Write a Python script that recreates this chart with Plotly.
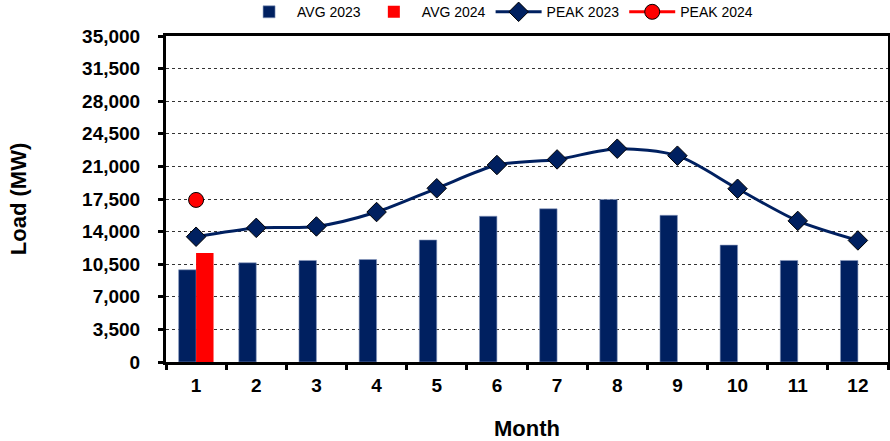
import plotly.graph_objects as go

months = [str(m) for m in range(1, 13)]
avg_2023 = [9900, 10650, 10900, 11000, 13100, 15650, 16450, 17450, 15750, 12550, 10900, 10900]
avg_2024 = [11700] + [None] * 11
peak_2023 = [13450, 14400, 14550, 16100, 18650, 21150, 21750, 22900, 22150, 18600, 15150, 13050]
peak_2024 = [17400] + [None] * 11
y_ticks = [0, 3500, 7000, 10500, 14000, 17500, 21000, 24500, 28000, 31500, 35000]

navy = '#002060'
red = '#FF0000'
font = 'Arial, Liberation Sans, sans-serif'

fig = go.Figure()
fig.add_trace(go.Bar(x=months, y=avg_2023, name='AVG 2023', marker=dict(color=navy, line=dict(color='#8a9ac0', width=0.6))))
fig.add_trace(go.Bar(x=months, y=avg_2024, name='AVG 2024', marker=dict(color=red, line=dict(width=0))))
fig.add_trace(go.Scatter(x=months, y=peak_2023, name='PEAK 2023', mode='lines+markers',
                         line=dict(color=navy, width=3, shape='spline', smoothing=0.8),
                         marker=dict(symbol='diamond', size=15, color=navy, line=dict(color='black', width=1))))
fig.add_trace(go.Scatter(x=months, y=peak_2024, name='PEAK 2024', mode='lines+markers',
                         line=dict(color=red, width=3),
                         marker=dict(symbol='circle', size=15, color=red, line=dict(color='black', width=1))))

fig.update_layout(
    width=890, height=441,
    margin=dict(l=166, r=2, t=36, b=79, autoexpand=False),
    paper_bgcolor='white', plot_bgcolor='white',
    font=dict(family=font, color='black'),
    barmode='group', bargap=0.42, bargroupgap=0,
    showlegend=True,
    legend=dict(orientation='h', x=0.462, xanchor='center', y=1.122, yanchor='top',
                font=dict(size=14), traceorder='normal', itemwidth=46),
    xaxis=dict(type='category', range=[-0.5, 11.5], automargin=False,
               title=dict(text='Month', font=dict(size=22, weight='bold'), standoff=26),
               tickfont=dict(size=19, weight='bold'), ticklabelstandoff=4,
               showline=True, linecolor='black', linewidth=3, mirror=True,
               ticks='outside', ticklen=5, tickwidth=3, tickcolor='black', tickson='boundaries',
               showgrid=False),
    yaxis=dict(range=[0, 35000], tickvals=y_ticks, tickformat=',', automargin=False,
               title=dict(text='Load (MW)', font=dict(size=22, weight='bold'), standoff=50),
               tickfont=dict(size=19, weight='bold'),
               showline=True, linecolor='black', linewidth=3, mirror=True,
               ticks='outside', ticklen=5, tickwidth=3, tickcolor='black', ticklabelstandoff=14,
               showgrid=True, gridcolor='#333333', gridwidth=1, griddash='dot',
               zeroline=False),
)

fig.write_html("out.html", config={'displayModeBar': False},
               post_script="document.body.style.margin='0';document.body.style.overflow='hidden';")
